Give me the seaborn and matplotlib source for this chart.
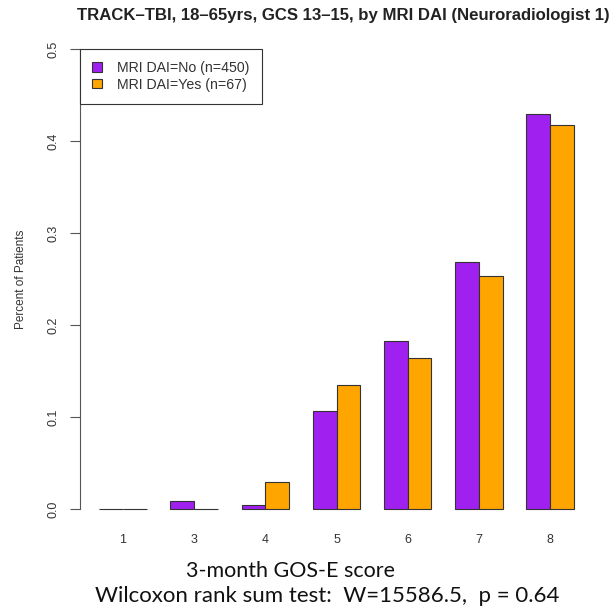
import seaborn as sns
import matplotlib.pyplot as plt
import pandas as pd
from matplotlib.patches import Patch

# GOS-E score categories and proportion of patients per group
scores = ["1", "3", "4", "5", "6", "7", "8"]
dai_no = [0.0, 0.0089, 0.0044, 0.1067, 0.1822, 0.2689, 0.4289]
dai_yes = [0.0, 0.0, 0.0299, 0.1343, 0.1642, 0.2537, 0.4179]
groups = ["MRI DAI=No (n=450)", "MRI DAI=Yes (n=67)"]
colors = ["#A020F0", "#FFA500"]

df = pd.DataFrame({
    "score": scores * 2,
    "pct": dai_no + dai_yes,
    "group": [groups[0]] * len(scores) + [groups[1]] * len(scores),
})

sns.set_style("white")
plt.rcParams["font.family"] = ["Liberation Sans", "DejaVu Sans"]

fig = plt.figure(figsize=(6.13, 6.15), dpi=100)
ax = fig.add_axes([0.131, 0.1424, 0.8359, 0.8078])

sns.barplot(data=df, x="score", y="pct", hue="group", order=scores,
            hue_order=groups, palette=colors, width=2/3, gap=0,
            errorbar=None, edgecolor="#333333", linewidth=0.8,
            saturation=1, legend=False, ax=ax)

ax.set_xlim(-0.6, 6.6)
ax.set_ylim(-0.02, 0.52)
ax.set_yticks([0.0, 0.1, 0.2, 0.3, 0.4, 0.5])
ax.set_yticklabels(["0.0", "0.1", "0.2", "0.3", "0.4", "0.5"], rotation=90,
                   va="center", fontsize=9, color="#333333")
ax.tick_params(axis="y", which="both", left=True, length=7, width=0.8,
               color="#555555", pad=8)
ax.tick_params(axis="x", bottom=False, labelsize=9, labelcolor="#333333", pad=1)

for side in ["top", "right", "bottom"]:
    ax.spines[side].set_visible(False)
ax.spines["left"].set_bounds(0.0, 0.5)
ax.spines["left"].set_color("#555555")
ax.spines["left"].set_linewidth(0.8)

ax.set_xlabel("")
ax.set_ylabel("Percent of Patients", fontsize=8.5, color="#333333", labelpad=15)

handles = [Patch(facecolor=c, edgecolor="#333333", linewidth=0.8) for c in colors]
leg = ax.legend(handles, groups, loc="upper left", bbox_to_anchor=(-0.6, 0.5),
                bbox_transform=ax.transData, borderaxespad=0, fancybox=False,
                framealpha=1, edgecolor="#333333", fontsize=10.2,
                handlelength=0.65, handleheight=0.65, handletextpad=1.1,
                borderpad=0.85, labelspacing=0.18)
leg.get_frame().set_linewidth(0.8)
for t in leg.get_texts():
    t.set_color("#333333")

fig.text(0.5604, 0.9756, "TRACK\u2013TBI, 18\u201365yrs, GCS 13\u201315, by MRI DAI (Neuroradiologist 1)",
         ha="center", va="center", fontsize=12.1, fontweight="bold", color="#222222")
fig.text(0.474, 0.0715, "3-month GOS-E score", ha="center", va="center",
         fontsize=15.5, family=["Lato", "DejaVu Sans"], color="#111111")
fig.text(0.534, 0.031, "Wilcoxon rank sum test:  W=15586.5,  p = 0.64", ha="center",
         va="center", fontsize=16, family=["Lato", "DejaVu Sans"], color="#111111")

fig.savefig("out.png", dpi=100)
